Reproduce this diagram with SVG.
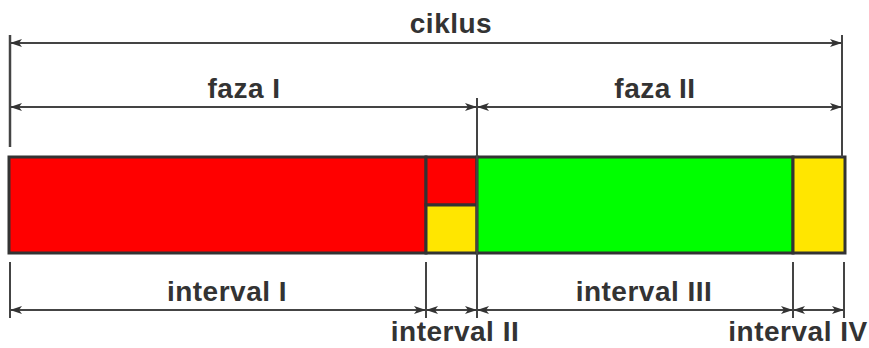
<svg xmlns="http://www.w3.org/2000/svg" width="869" height="348" viewBox="0 0 869 348">
<defs>
<style>
.t{font-family:"Liberation Sans",Arial,sans-serif;font-weight:bold;font-size:28px;letter-spacing:0.5px;fill:#333;text-anchor:middle}
.l{stroke:#444;stroke-width:2;fill:none}
.d{stroke:#444;stroke-width:2.5;fill:none}
.b{stroke:#333;stroke-width:3}
</style>
<marker id="a" viewBox="0 0 12 8" refX="12" refY="4" markerWidth="12" markerHeight="8" markerUnits="userSpaceOnUse" orient="auto-start-reverse">
<path d="M0,0 L12,4 L0,8 L3,4 Z" fill="#333"/>
</marker>
</defs>
<rect width="869" height="348" fill="#fff"/>
<g id="bar">
<rect class="b" x="9" y="157" width="417" height="96" fill="#ff0000"/>
<rect class="b" x="426" y="157" width="51" height="48" fill="#ff0000"/>
<rect class="b" x="426" y="205" width="51" height="48" fill="#ffe600"/>
<rect class="b" x="477" y="157" width="316" height="96" fill="#00ff00"/>
<rect class="b" x="793" y="157" width="52" height="96" fill="#ffe600"/>
</g>
<g id="connectors">
<line class="d" x1="10" y1="35" x2="10" y2="147"/>
<line class="l" x1="842" y1="35" x2="842" y2="157"/>
<line class="l" x1="477" y1="98" x2="477" y2="300"/>
<line class="l" x1="10" y1="43" x2="842" y2="43" marker-start="url(#a)" marker-end="url(#a)"/>
<line class="l" x1="10" y1="107" x2="477" y2="107" marker-start="url(#a)" marker-end="url(#a)"/>
<line class="l" x1="477" y1="107" x2="842" y2="107" marker-start="url(#a)" marker-end="url(#a)"/>
<line class="l" x1="10" y1="262" x2="10" y2="318"/>
<line class="l" x1="426" y1="262" x2="426" y2="318"/>
<line class="l" x1="477" y1="300" x2="477" y2="318"/>
<line class="l" x1="793" y1="262" x2="793" y2="318"/>
<line class="l" x1="844" y1="262" x2="844" y2="318"/>
<line class="l" x1="10" y1="310" x2="426" y2="310" marker-start="url(#a)" marker-end="url(#a)"/>
<line class="l" x1="426" y1="310" x2="477" y2="310" marker-start="url(#a)" marker-end="url(#a)"/>
<line class="l" x1="477" y1="310" x2="793" y2="310" marker-start="url(#a)" marker-end="url(#a)"/>
<line class="l" x1="793" y1="310" x2="844" y2="310" marker-start="url(#a)" marker-end="url(#a)"/>
</g>
<g id="labels">
<text class="t" x="451" y="33">ciklus</text>
<text class="t" x="244" y="98">faza I</text>
<text class="t" x="655" y="98">faza II</text>
<text class="t" x="227" y="301">interval I</text>
<text class="t" x="455" y="341">interval II</text>
<text class="t" x="644" y="301">interval III</text>
<text class="t" x="798" y="341">interval IV</text>
</g>
</svg>
